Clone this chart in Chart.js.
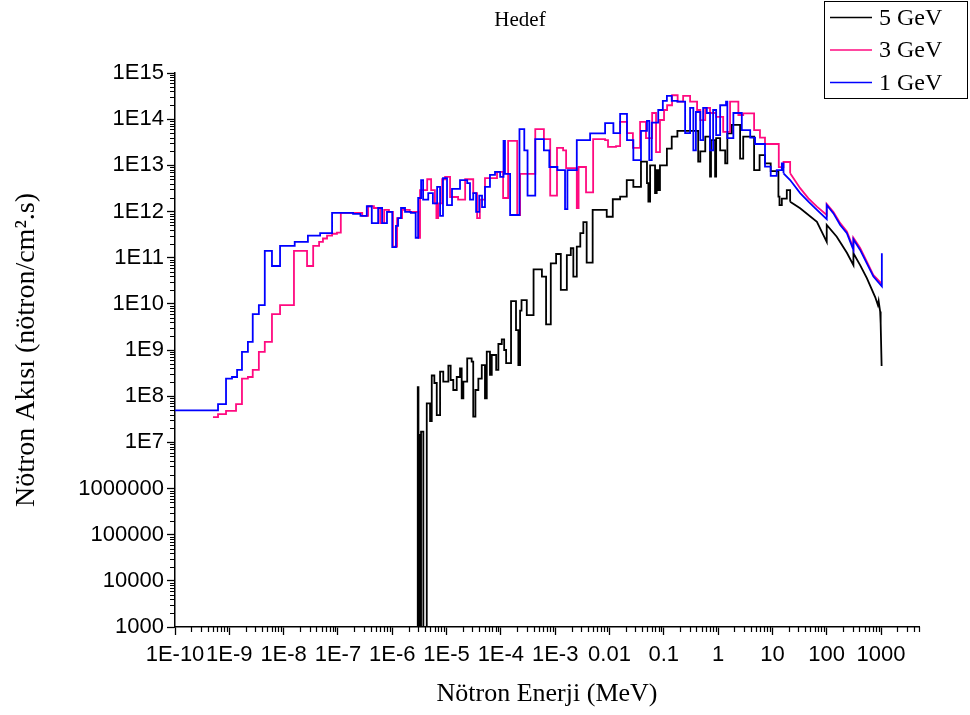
<!DOCTYPE html>
<html lang="tr">
<head>
  <meta charset="UTF-8" />
  <title>Hedef</title>
  <script src="https://cdn.jsdelivr.net/npm/chart.js"></script>
  <style>
    body { margin: 0; background: #fff; }
    canvas { display: block; }
  </style>
</head>
<body>
  <canvas id="fluxChart" width="970" height="715"></canvas>
  <script>
    const chartTitle = 'Hedef';
    const xTitle = 'Nötron Enerji (MeV)';
    const yTitle = 'Nötron Akısı (nötron/cm².s)';

    // tick labels, one per decade
    const xMinExp = -10;
    const xTickText = ['1E-10', '1E-9', '1E-8', '1E-7', '1E-6', '1E-5', '1E-4', '1E-3', '0.01', '0.1', '1', '10', '100', '1000'];
    const yMinExp = 3;
    const yTickText = ['1000', '10000', '100000', '1000000', '1E7', '1E8', '1E9', '1E10', '1E11', '1E12', '1E13', '1E14', '1E15'];

    // 5 GeV: histogram part (MeV, neutron/cm2.s)
    const gev5Energy = [2.9e-6, 2.95e-6, 3.04e-6, 3.09e-6, 3.25e-6, 3.39e-6, 3.74e-6, 4.32e-6, 4.97e-6, 5.34e-6,
      5.96e-6, 6.6e-6, 7.6e-6, 8.7e-6, 1.08e-5, 1.19e-5, 1.33e-5, 1.54e-5, 1.77e-5, 1.9e-5,
      2.04e-5, 2.4e-5, 2.9e-5, 3.1e-5, 3.4e-5, 3.85e-5, 4.45e-5, 5.1e-5, 5.5e-5, 6.3e-5,
      6.8e-5, 8.2e-5, 9.0e-5, 1.04e-4, 1.15e-4, 1.25e-4, 1.54e-4, 1.9e-4, 2.1e-4, 2.26e-4,
      2.4e-4, 3.0e-4, 4.0e-4, 5.7e-4, 6.8e-4, 8.3e-4, 1.04e-3, 1.27e-3, 1.64e-3, 1.94e-3,
      2.16e-3, 2.5e-3, 2.9e-3, 3.3e-3, 3.8e-3, 4.9e-3, 8.9e-3, 1.15e-2, 1.57e-2, 2.08e-2,
      2.75e-2, 3.8e-2, 4.9e-2, 5.2e-2, 5.6e-2, 6.9e-2, 7.4e-2, 7.9e-2, 8.5e-2, 0.114,
      0.14, 0.178, 0.43, 0.47, 0.58, 0.71, 0.74, 0.88, 0.92, 1.09,
      1.35, 1.48, 1.79, 2.54, 2.9, 4.6, 5.8, 7.3, 9.3, 12.9,
      13.5, 14.9, 18.4, 21.2];
    const gev5Flux = [100, 1.56e8, 100, 1.44e7, 100, 1.7e7, 100, 7.0e7, 2.9e7, 2.8e8,
      1.93e8, 3.9e7, 3.4e8, 2.06e8, 4.6e8, 2.24e8, 1.36e8, 2.6e8, 4.0e8, 9.0e7,
      2.06e8, 6.6e8, 5.6e8, 3.6e7, 1.36e8, 2.4e8, 4.7e8, 9.0e7, 9.2e8, 2.9e8,
      7.8e8, 3.7e8, 1.35e9, 1.7e9, 1.0e9, 5.2e8, 1.15e10, 2.7e9, 4.7e8, 7.1e9,
      1.2e10, 5.7e9, 5.6e10, 3.9e10, 3.6e9, 7.5e10, 1.2e11, 2.0e10, 1.14e11, 1.6e11,
      3.9e10, 1.73e11, 3.4e11, 5.9e11, 7.8e10, 1.08e12, 7.7e11, 1.84e12, 2.1e12, 4.8e12,
      3.4e12, 1.2e13, 4.1e12, 1.63e12, 1.0e13, 2.5e12, 7.9e12, 2.9e12, 1.0e13, 2.3e13,
      4.2e13, 5.6e13, 1.2e13, 2.0e13, 4.2e13, 5.7e12, 3.5e13, 5.7e12, 3.9e13, 2.1e13,
      1.1e13, 4.9e13, 7.5e13, 1.4e13, 4.2e13, 7.9e12, 1.67e13, 1.1e13, 7.5e12, 2.1e12,
      1.38e12, 1.9e12, 2.9e12, 1.63e12];
    // 5 GeV: high energy tail
    const gev5TailEnergy = [21.2, 32.4, 66, 100, 100, 153, 235, 310, 310, 412, 548, 780, 874, 903, 963, 984, 1025];
    const gev5TailFlux = [1.63e12, 1.17e12, 6.0e11, 2.2e11, 5.1e11, 2.85e11, 1.28e11, 6.9e10, 1.25e11, 6.9e10, 3.6e10, 1.4e10, 9.4e9, 1.15e10, 6.8e9, 3.8e9, 4.5e8];

    // 3 GeV
    const gev3Energy = [5.0e-10, 6.2e-10, 8.7e-10, 1.33e-9, 1.71e-9, 2.2e-9, 2.7e-9, 3.5e-9, 4.5e-9, 6.1e-9,
      8.6e-9, 1.55e-8, 2.7e-8, 3.5e-8, 4.5e-8, 5.3e-8, 6.3e-8, 7.8e-8, 9.6e-8, 1.13e-7,
      1.9e-7, 2.8e-7, 3.6e-7, 4.6e-7, 6.0e-7, 7.1e-7, 8.7e-7, 1.03e-6, 1.23e-6, 1.52e-6,
      2.1e-6, 3.05e-6, 3.25e-6, 4.4e-6, 5.2e-6, 6.1e-6, 6.5e-6, 7.0e-6, 8.3e-6, 9.4e-6,
      1.16e-5, 1.63e-5, 2.2e-5, 3.1e-5, 3.65e-5, 4.1e-5, 5.1e-5, 8.5e-5, 1.1e-4, 1.36e-4,
      2.0e-4, 2.26e-4, 4.3e-4, 6.2e-4, 8.1e-4, 1.08e-3, 1.4e-3, 1.59e-3, 2.5e-3, 2.7e-3,
      3.7e-3, 5.0e-3, 8.3e-3, 9.4e-3, 1.32e-2, 1.57e-2, 2.1e-2, 2.7e-2, 3.66e-2, 4.7e-2,
      6.1e-2, 7.2e-2, 8.5e-2, 0.101, 0.115, 0.142, 0.18, 0.227, 0.305, 0.41,
      0.47, 0.58, 0.71, 0.92, 1.24, 1.66, 2.36, 2.9, 4.6, 5.9,
      7.3, 13.1, 16, 21.2];
    const gev3Flux = [3.5e7, 4.1e7, 4.8e7, 6.7e7, 2.4e8, 2.6e8, 3.7e8, 9.1e8, 1.5e9, 6.0e9,
      9.4e9, 1.4e11, 6.6e10, 1.8e11, 2.2e11, 2.6e11, 3.0e11, 3.3e11, 3.5e11, 9.3e11,
      9.3e11, 8.0e11, 1.3e12, 1.19e12, 5.6e11, 1.08e12, 9.8e11, 1.73e11, 7.2e11, 1.08e12,
      9.8e11, 2.7e11, 2.9e12, 5.0e12, 2.9e12, 1.5e12, 7.2e11, 1.5e12, 5.0e12, 5.6e12,
      2.06e12, 1.8e12, 5.0e12, 2.5e12, 7.2e11, 1.8e12, 5.3e12, 7.2e12, 1.96e12, 3.4e13,
      8.4e11, 6.5e12, 6.1e13, 3.7e13, 2.2e12, 2.4e13, 2.1e13, 8.7e12, 1.19e12, 9.2e12,
      2.6e12, 3.7e13, 3.5e13, 2.5e13, 2.6e13, 8.7e13, 5.0e13, 2.4e13, 8.7e13, 3.9e13,
      1.36e14, 1.94e13, 9.6e13, 1.58e14, 2.0e14, 3.3e14, 2.4e14, 3.2e14, 2.4e14, 1.58e14,
      9.5e13, 1.75e14, 1.36e14, 1.12e14, 5.3e13, 2.4e14, 1.23e14, 1.34e14, 5.8e13, 4.0e13,
      2.9e13, 9.1e12, 1.18e13, 6.7e12];
    const gev3TailEnergy = [21.2, 32.4, 46, 66, 100, 100, 133, 177, 235, 310, 310, 412, 548, 724, 1035];
    const gev3TailFlux = [6.7e12, 3.2e12, 1.93e12, 1.27e12, 8.4e11, 1.45e12, 9.8e11, 5.6e11, 3.7e11, 1.62e11, 2.7e11, 1.62e11, 8.2e10, 4.2e10, 2.7e10];

    // 1 GeV
    const gev1Energy = [1.0e-10, 6.2e-10, 8.7e-10, 1.12e-9, 1.39e-9, 1.71e-9, 2.2e-9, 2.7e-9, 3.5e-9, 4.5e-9,
      6.1e-9, 8.6e-9, 1.6e-8, 2.8e-8, 4.7e-8, 7.8e-8, 1.9e-7, 2.6e-7, 3.4e-7, 4.2e-7,
      5.5e-7, 6.5e-7, 8.0e-7, 1.0e-6, 1.17e-6, 1.28e-6, 1.45e-6, 1.72e-6, 2.2e-6, 2.7e-6,
      3.0e-6, 3.4e-6, 3.7e-6, 4.6e-6, 5.6e-6, 6.7e-6, 7.6e-6, 8.6e-6, 1.02e-5, 1.26e-5,
      1.77e-5, 2.4e-5, 2.7e-5, 3.1e-5, 3.5e-5, 4.0e-5, 4.5e-5, 5.1e-5, 6.3e-5, 7.8e-5,
      9.7e-5, 1.12e-4, 1.19e-4, 1.48e-4, 2.2e-4, 2.7e-4, 3.1e-4, 4.3e-4, 6.2e-4, 7.8e-4,
      1.1e-3, 1.52e-3, 1.68e-3, 2.5e-3, 4.4e-3, 8.3e-3, 1.18e-2, 1.57e-2, 2.1e-2, 2.75e-2,
      3.8e-2, 4.9e-2, 5.4e-2, 6.0e-2, 7.9e-2, 9.6e-2, 0.114, 0.14, 0.178, 0.247,
      0.305, 0.35, 0.39, 0.47, 0.53, 0.62, 0.71, 0.81, 0.92, 1.09,
      1.4, 1.48, 1.91, 2.73, 3.9, 4.8, 7.3, 9.3, 12, 14.9,
      16];
    const gev1Flux = [4.9e7, 6.7e7, 2.4e8, 2.6e8, 3.7e8, 9.1e8, 1.5e9, 6.0e9, 9.4e9, 1.4e11,
      6.6e10, 1.8e11, 2.2e11, 3.0e11, 3.4e11, 9.3e11, 8.9e11, 8.0e11, 1.3e12, 5.6e11,
      1.19e12, 5.6e11, 9.8e11, 1.7e11, 4.9e11, 7.2e11, 1.19e12, 9.8e11, 9.3e11, 2.7e11,
      1.96e12, 4.8e12, 1.8e12, 2.5e12, 1.5e12, 3.4e12, 8.0e11, 5.3e12, 1.38e12, 3.1e12,
      4.8e12, 4.1e12, 1.8e12, 2.5e12, 9.8e11, 2.2e12, 1.25e12, 3.4e12, 6.2e12, 7.2e12,
      5.6e12, 3.4e13, 6.5e12, 8.4e11, 6.1e13, 2.1e13, 2.2e12, 3.7e13, 2.1e13, 9.2e12,
      7.9e12, 1.13e12, 7.9e12, 3.5e13, 4.9e13, 8.2e13, 5.0e13, 1.3e14, 3.5e13, 1.3e13,
      5.6e13, 9.2e13, 1.3e13, 8.4e13, 1.58e14, 2.5e14, 3.2e14, 2.5e14, 2.4e14, 5.0e13,
      1.75e14, 2.1e13, 1.43e14, 3.5e13, 1.75e14, 1.36e14, 2.1e13, 1.58e14, 4.5e13, 2.0e14,
      2.4e14, 3.9e13, 1.36e14, 5.8e13, 4.0e13, 2.9e13, 9.4e12, 5.9e12, 7.9e12, 1.1e13,
      6.7e12];
    const gev1TailEnergy = [16, 21.2, 32.4, 46, 66, 100, 100, 133, 177, 235, 310, 310, 412, 548, 724, 1035, 1035];
    const gev1TailFlux = [6.7e12, 4.8e12, 2.5e12, 1.63e12, 1.08e12, 6.8e11, 1.38e12, 9.1e11, 5.1e11, 3.4e11, 1.47e11, 2.5e11, 1.47e11, 7.5e10, 3.9e10, 2.4e10, 1.25e11];

    const serif = '"Liberation Serif", "Times New Roman", serif';
    const sans = '"Liberation Sans", Arial, sans-serif';

    function toPoints(xs, ys) {
      return xs.map((x, i) => ({ x: x, y: ys[i] }));
    }

    // exponent if v is an exact power of ten, otherwise null
    function decade(v) {
      const e = Math.log10(v);
      const r = Math.round(e);
      return Math.abs(e - r) < 1e-6 ? r : null;
    }

    // 2..9 multiples of a decade (the log scale also gives 1.5 ticks, skip those)
    function isMinor(v) {
      if (decade(v) !== null) return false;
      const m = v / Math.pow(10, Math.floor(Math.log10(v) + 1e-9));
      return Math.abs(m - Math.round(m)) < 1e-6;
    }

    function series(label, color, order, xs, ys, stepped, inLegend) {
      return {
        label: label,
        data: toPoints(xs, ys),
        borderColor: color,
        backgroundColor: color,
        borderWidth: 1.8,
        pointRadius: 0,
        stepped: stepped ? 'before' : false,
        tension: 0,
        fill: false,
        order: order,
        inLegend: inLegend
      };
    }

    const minorTicks = {
      id: 'minorTicks',
      afterDraw(chart) {
        const { ctx } = chart;
        const xs = chart.scales.x, ys = chart.scales.y;
        ctx.save();
        ctx.strokeStyle = '#000';
        ctx.lineWidth = 1.2;
        ctx.beginPath();
        xs.ticks.forEach(t => {
          if (!isMinor(t.value)) return;
          const px = Math.round(xs.getPixelForValue(t.value)) + 0.5;
          ctx.moveTo(px, xs.top);
          ctx.lineTo(px, xs.top + 5);
        });
        ys.ticks.forEach(t => {
          if (!isMinor(t.value)) return;
          const py = Math.round(ys.getPixelForValue(t.value)) + 0.5;
          ctx.moveTo(ys.right, py);
          ctx.lineTo(ys.right - 5, py);
        });
        ctx.stroke();
        ctx.restore();
      }
    };

    const titleAndLegend = {
      id: 'titleAndLegend',
      afterDraw(chart) {
        const { ctx } = chart;
        ctx.save();
        ctx.fillStyle = '#000';
        ctx.font = '21px ' + serif;
        ctx.textAlign = 'center';
        ctx.textBaseline = 'middle';
        ctx.fillText(chartTitle, 520, 20);

        // boxed legend, top right
        ctx.strokeStyle = '#000';
        ctx.lineWidth = 1;
        ctx.strokeRect(824.5, 1.5, 143, 97);
        ctx.font = '24px ' + serif;
        ctx.textAlign = 'left';
        const items = chart.data.datasets.filter(d => d.inLegend);
        items.forEach((d, i) => {
          const yy = 17.5 + i * 32.5;
          ctx.strokeStyle = d.borderColor;
          ctx.lineWidth = 1.6;
          ctx.beginPath();
          ctx.moveTo(830, yy);
          ctx.lineTo(872, yy);
          ctx.stroke();
          ctx.fillText(d.label, 879, yy + 1);
        });
        ctx.restore();
      }
    };

    const ctx = document.getElementById('fluxChart').getContext('2d');
    new Chart(ctx, {
      type: 'line',
      data: {
        datasets: [
          series('5 GeV', '#000000', 2, gev5Energy, gev5Flux, true, true),
          series('3 GeV', '#ff0a80', 1, gev3Energy, gev3Flux, true, true),
          series('1 GeV', '#0000ff', 0, gev1Energy, gev1Flux, true, true),
          series('5 GeV', '#000000', 2, gev5TailEnergy, gev5TailFlux, false, false),
          series('3 GeV', '#ff0a80', 1, gev3TailEnergy, gev3TailFlux, false, false),
          series('1 GeV', '#0000ff', 0, gev1TailEnergy, gev1TailFlux, false, false)
        ]
      },
      options: {
        responsive: false,
        animation: false,
        layout: { padding: { top: 73, right: 51, bottom: 0, left: 0 } },
        plugins: {
          legend: { display: false },
          tooltip: { enabled: false }
        },
        scales: {
          x: {
            type: 'logarithmic',
            min: 1e-10,
            max: 5000,
            afterFit: s => { s.height = 88; },
            border: { display: true, color: '#000', width: 1.5 },
            grid: {
              drawOnChartArea: false,
              tickLength: 8,
              tickWidth: 1.3,
              color: c => (c.tick && decade(c.tick.value) !== null) ? '#000' : 'rgba(0,0,0,0)'
            },
            ticks: {
              autoSkip: false,
              maxRotation: 0,
              minRotation: 0,
              padding: 7,
              color: '#000',
              font: { family: sans, size: 22 },
              callback: v => {
                const e = decade(v);
                return e === null ? '' : xTickText[e - xMinExp];
              }
            },
            title: {
              display: true,
              text: xTitle,
              color: '#000',
              font: { family: serif, size: 26 },
              padding: { top: 0, bottom: 5 }
            }
          },
          y: {
            type: 'logarithmic',
            min: 1e3,
            max: 1e15,
            afterFit: s => { s.width = 175; },
            border: { display: true, color: '#000', width: 1.5 },
            grid: {
              drawOnChartArea: false,
              tickLength: 8,
              tickWidth: 1.3,
              color: c => (c.tick && decade(c.tick.value) !== null) ? '#000' : 'rgba(0,0,0,0)'
            },
            ticks: {
              autoSkip: false,
              padding: 3,
              color: '#000',
              font: { family: sans, size: 22 },
              callback: v => {
                const e = decade(v);
                return e === null ? '' : yTickText[e - yMinExp];
              }
            },
            title: {
              display: true,
              text: yTitle,
              color: '#000',
              font: { family: serif, size: 28 },
              padding: { top: 10, bottom: 0 }
            }
          }
        }
      },
      plugins: [minorTicks, titleAndLegend]
    });
  </script>
</body>
</html>
